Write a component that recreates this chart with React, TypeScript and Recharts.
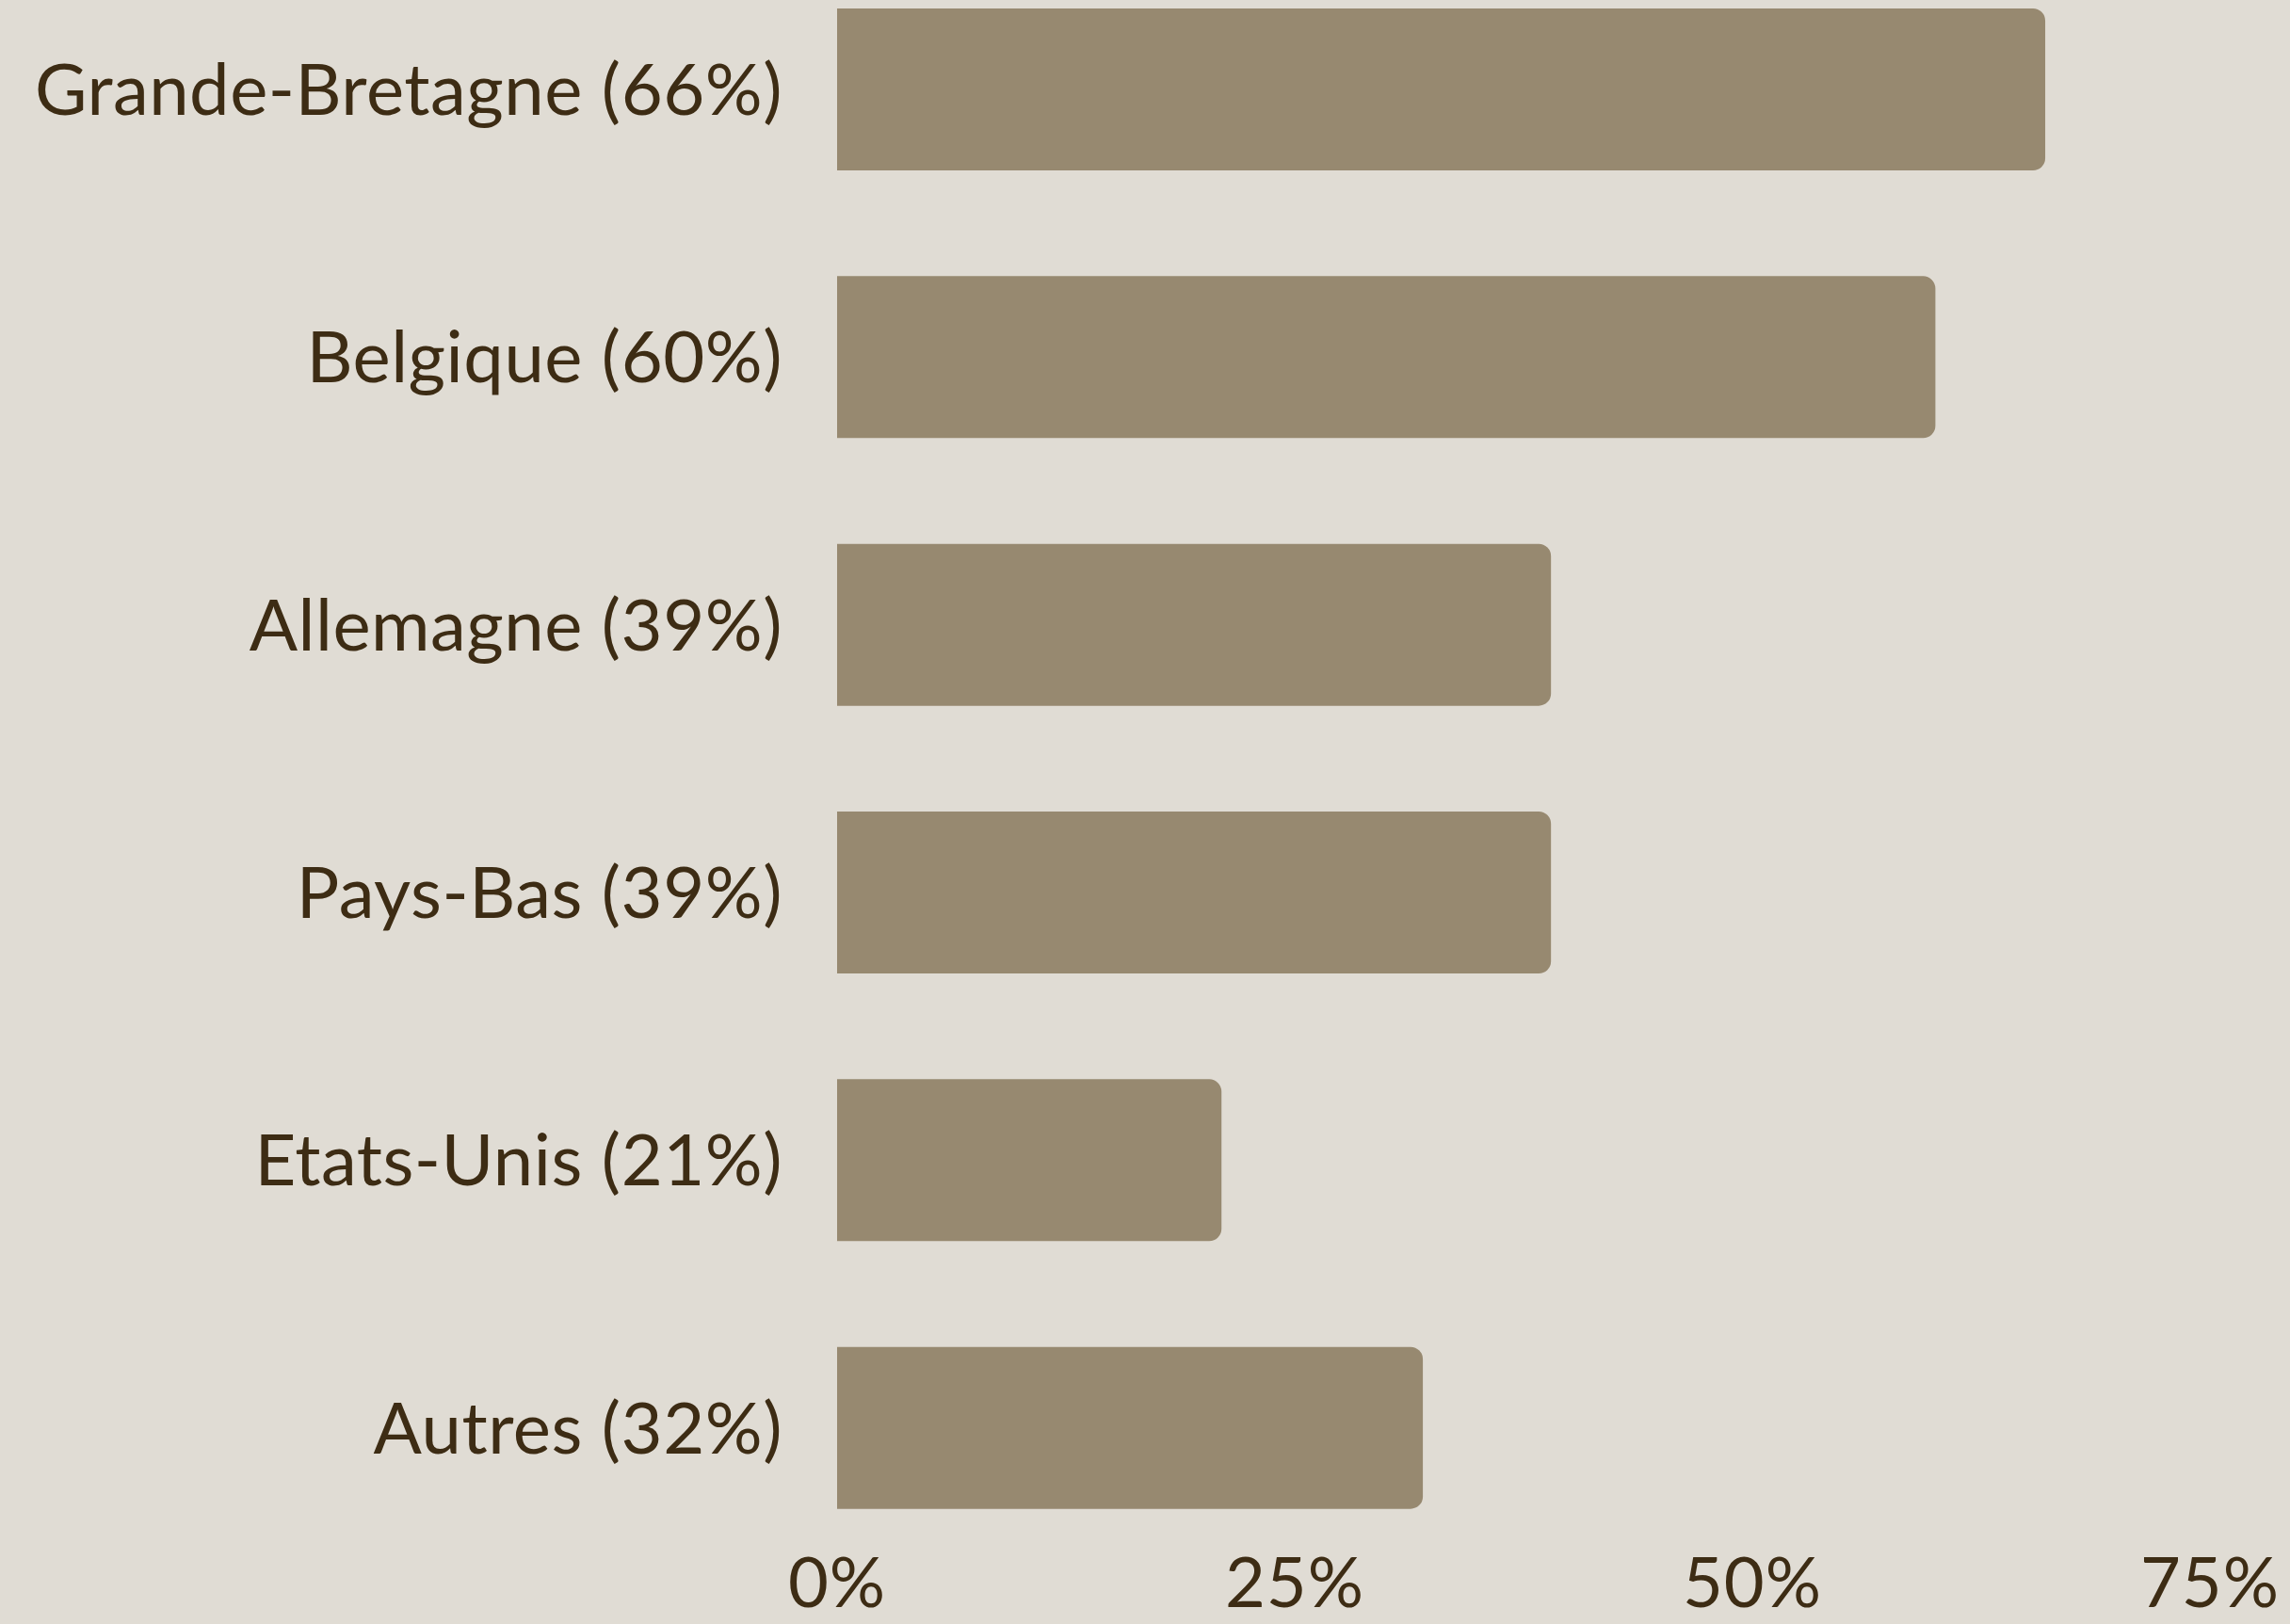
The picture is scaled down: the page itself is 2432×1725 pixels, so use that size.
import React from "react";
import { BarChart, Bar, XAxis, YAxis } from "recharts";

const categories = [
  "Grande-Bretagne (66%)",
  "Belgique (60%)",
  "Allemagne (39%)",
  "Pays-Bas (39%)",
  "Etats-Unis (21%)",
  "Autres (32%)",
];
const values = [66, 60, 39, 39, 21, 32];
const xTicks = [0, 25, 50, 75];

const data = categories.map((name, i) => ({ name, value: values[i] }));

const BG = "#e0dcd4";
const BAR = "#978970";
const TEXT = "#3d2c14";
const FONT = "Lato, 'Noto Sans', sans-serif";

export default function App() {
  return (
    <div
      style={{
        position: "absolute",
        left: 0,
        top: 0,
        width: 2432,
        height: 1725,
        overflow: "hidden",
        background: BG,
      }}
    >
      <div style={{ position: "absolute", left: 0, top: -47 }}>
        <BarChart
          width={2432}
          height={1772}
          data={data}
          layout="vertical"
          margin={{ top: 0, right: 85, bottom: 0, left: 0 }}
        >
          <XAxis
            type="number"
            domain={[0, 75]}
            ticks={xTicks}
            tickFormatter={(v: number) => `${v}%`}
            axisLine={false}
            tickLine={false}
            tickSize={0}
            tickMargin={-5}
            height={66}
            interval={0}
            tick={{ fill: TEXT, fontSize: 74, fontFamily: FONT, fontWeight: 400, letterSpacing: 1 }}
          />
          <YAxis
            type="category"
            dataKey="name"
            width={889}
            axisLine={false}
            tickLine={false}
            tickSize={0}
            tickMargin={58}
            interval={0}
            tick={{ fill: TEXT, fontSize: 76, fontFamily: FONT, fontWeight: 400, letterSpacing: 0.5 }}
          />
          <Bar
            dataKey="value"
            fill={BAR}
            barSize={172}
            radius={[0, 13, 13, 0]}
            isAnimationActive={false}
          />
        </BarChart>
      </div>
    </div>
  );
}
